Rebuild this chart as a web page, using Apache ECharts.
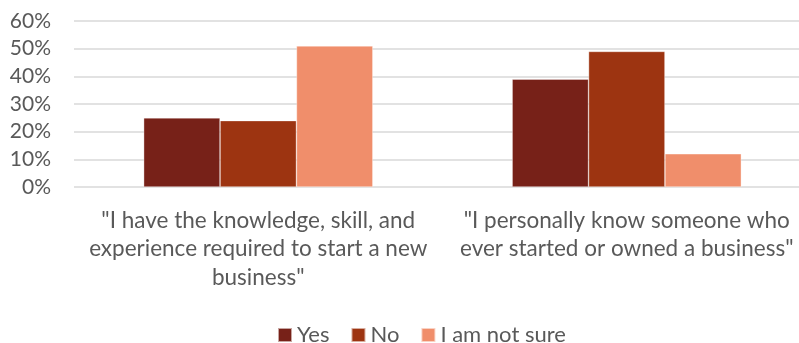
<!DOCTYPE html>
<html><head><meta charset="utf-8">
<script src="https://cdn.jsdelivr.net/npm/echarts@6/dist/echarts.min.js"></script>
<style>html,body{margin:0;padding:0;background:#fff}#c{width:799px;height:343px}</style>
</head><body><div id="c"></div>
<script>
const categories = ['"I have the knowledge, skill, and\nexperience required to start a new\nbusiness"', '"I personally know someone who\never started or owned a business"'];
const seriesNames = ['Yes', 'No', 'I am not sure'];
const yesValues = [25, 39];
const noValues = [24, 49];
const notSureValues = [51, 12];
const yTicks = [0, 10, 20, 30, 40, 50, 60];
const colors = ['#772118', '#9D3411', '#F08E6B'];
const FONT = 'Lato, "Liberation Sans", sans-serif';
const chart = echarts.init(document.getElementById('c'));
const vals = [yesValues, noValues, notSureValues];
chart.setOption({
  animation: false,
  textStyle: {fontFamily: FONT},
  grid: {left: 74, width: 737, top: 21, height: 166, containLabel: false, outerBoundsMode: 'none'},
  xAxis: {type: 'category', data: categories,
    axisLine: {show: false}, axisTick: {show: false},
    axisLabel: {color: '#595959', fontSize: 22.5, lineHeight: 28.5, fontFamily: FONT, margin: 19, interval: 0}},
  yAxis: {type: 'value', min: yTicks[0], max: yTicks[yTicks.length-1], interval: 10,
    axisLine: {show: false}, axisTick: {show: false},
    axisLabel: {color: '#595959', fontSize: 21, fontFamily: FONT, margin: 23, formatter: v => v + '%'},
    splitLine: {lineStyle: {color: '#d9d9d9', width: 1.5}}},
  legend: {data: seriesNames, left: 272, top: 319, itemWidth: 14, itemHeight: 14, itemGap: 21,
    icon: 'rect', textStyle: {color: '#595959', fontSize: 22, fontFamily: FONT, padding: [0,0,0,0]}},
  series: seriesNames.map((n, i) => ({name: n, type: 'bar', data: vals[i], barGap: '0%', barCategoryGap: '37.8%',
    itemStyle: {color: colors[i], borderColor: 'rgba(255,255,255,0.6)', borderWidth: 0.6}}))
});
</script></body></html>
